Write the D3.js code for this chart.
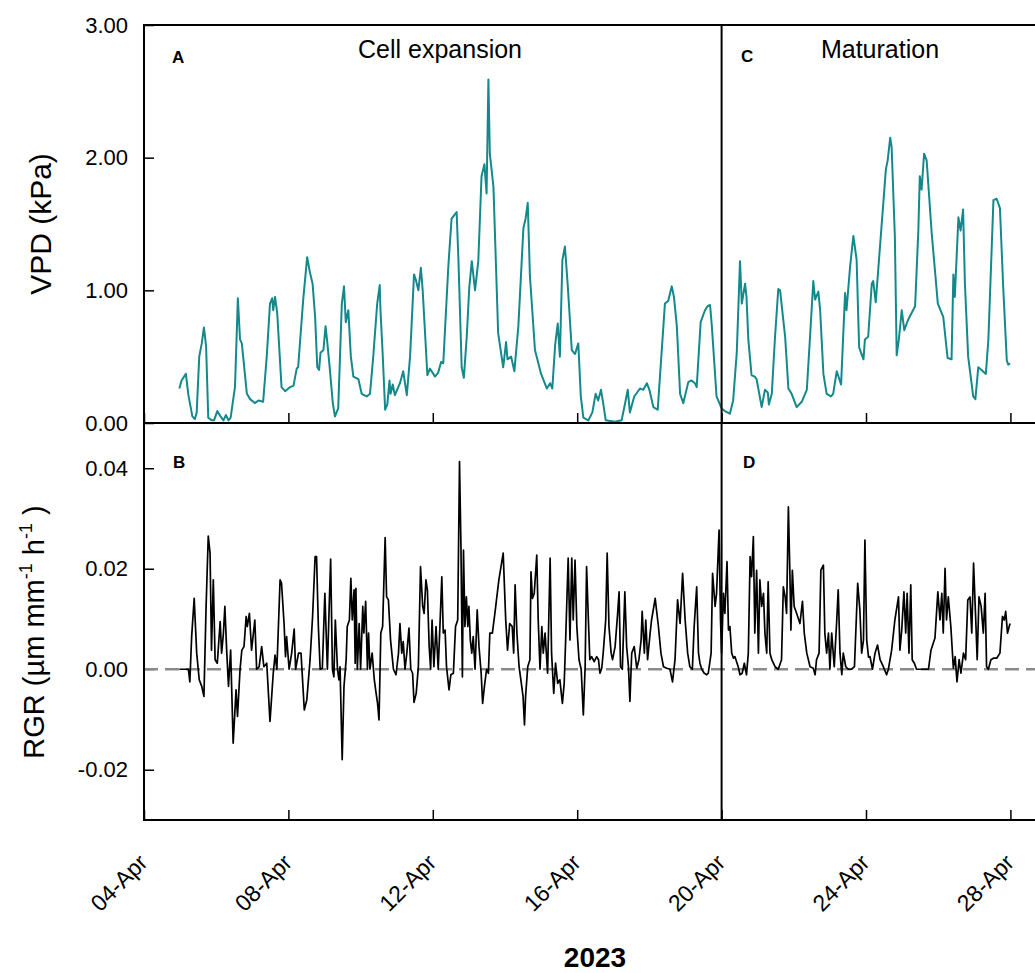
<!DOCTYPE html>
<html><head><meta charset="utf-8">
<script src="https://cdn.jsdelivr.net/npm/d3@7"></script>
<style>
body{margin:0;background:#fff}
svg{display:block}
text{font-family:"Liberation Sans",Arial,Helvetica,sans-serif;fill:#000}
</style>
</head><body>
<svg id="chart" width="1035" height="973"></svg>
<script>
// ---- data (decimal day of April 2023, value) ----
const tickDays = [4, 8, 12, 16, 20, 24, 28];
const tickLabels = ["04-Apr", "08-Apr", "12-Apr", "16-Apr", "20-Apr", "24-Apr", "28-Apr"];
const vpdTicks = [0, 1, 2, 3];
const rgrTicks = [-0.02, 0, 0.02, 0.04];
const phaseSplitDay = 20;
const phaseTitles = ["Cell expansion", "Maturation"];
const panelLetters = ["A", "B", "C", "D"];

const vpdSeries = [[4.98,0.26],[5.04,0.32],[5.16,0.37],[5.23,0.21],[5.34,0.05],[5.41,0.03],[5.46,0.08],[5.53,0.50],[5.60,0.60],[5.66,0.72],[5.72,0.58],[5.78,0.04],[5.88,0.02],[5.94,0.02],[6.03,0.09],[6.12,0.05],[6.20,0.02],[6.27,0.06],[6.34,0.02],[6.40,0.04],[6.52,0.27],[6.60,0.94],[6.66,0.63],[6.71,0.60],[6.85,0.22],[6.94,0.18],[7.07,0.15],[7.17,0.17],[7.30,0.16],[7.40,0.50],[7.49,0.90],[7.55,0.94],[7.58,0.85],[7.63,0.95],[7.69,0.83],[7.81,0.27],[7.91,0.24],[8.04,0.27],[8.14,0.28],[8.23,0.41],[8.27,0.42],[8.41,0.93],[8.52,1.25],[8.60,1.13],[8.67,1.05],[8.74,0.80],[8.80,0.42],[8.85,0.40],[8.89,0.53],[8.97,0.55],[9.03,0.73],[9.08,0.60],[9.15,0.40],[9.23,0.15],[9.29,0.05],[9.38,0.11],[9.48,0.90],[9.54,1.03],[9.59,0.76],[9.66,0.85],[9.73,0.50],[9.80,0.35],[9.94,0.33],[10.03,0.22],[10.17,0.20],[10.26,0.22],[10.35,0.50],[10.46,0.90],[10.53,1.04],[10.55,0.85],[10.61,0.53],[10.68,0.10],[10.74,0.14],[10.80,0.32],[10.83,0.22],[10.89,0.29],[10.95,0.21],[11.09,0.30],[11.18,0.39],[11.28,0.21],[11.37,0.50],[11.48,1.12],[11.53,1.08],[11.60,1.00],[11.67,1.17],[11.72,1.00],[11.85,0.36],[11.92,0.41],[12.06,0.35],[12.15,0.38],[12.23,0.46],[12.29,0.45],[12.43,1.18],[12.52,1.54],[12.66,1.59],[12.71,1.23],[12.80,0.42],[12.86,0.34],[12.94,0.65],[13.01,1.02],[13.08,1.22],[13.17,1.00],[13.26,1.22],[13.35,1.86],[13.43,1.95],[13.49,1.73],[13.54,2.59],[13.58,2.03],[13.68,1.78],[13.81,0.68],[13.95,0.42],[14.03,0.61],[14.07,0.48],[14.17,0.50],[14.26,0.39],[14.37,0.73],[14.51,1.47],[14.57,1.54],[14.63,1.66],[14.69,1.11],[14.83,0.55],[15.00,0.37],[15.16,0.26],[15.25,0.30],[15.31,0.26],[15.39,0.59],[15.46,0.75],[15.52,0.50],[15.59,1.23],[15.66,1.33],[15.74,1.03],[15.85,0.55],[15.94,0.52],[16.03,0.60],[16.10,0.20],[16.17,0.04],[16.31,0.02],[16.42,0.08],[16.51,0.22],[16.58,0.17],[16.66,0.25],[16.72,0.15],[16.79,0.02],[17.05,0.01],[17.23,0.02],[17.32,0.14],[17.40,0.25],[17.46,0.08],[17.58,0.20],[17.74,0.26],[17.83,0.25],[17.93,0.30],[18.00,0.25],[18.11,0.12],[18.23,0.10],[18.43,0.90],[18.52,0.92],[18.62,1.03],[18.68,0.95],[18.76,0.73],[18.85,0.22],[18.94,0.15],[19.08,0.31],[19.17,0.32],[19.26,0.30],[19.31,0.27],[19.42,0.76],[19.54,0.85],[19.61,0.88],[19.68,0.89],[19.73,0.73],[19.86,0.20],[20.00,0.11],[20.09,0.09],[20.23,0.07],[20.32,0.17],[20.42,0.53],[20.51,1.22],[20.56,0.90],[20.65,1.05],[20.69,0.95],[20.74,0.63],[20.83,0.36],[20.92,0.35],[20.97,0.33],[21.11,0.12],[21.20,0.25],[21.28,0.23],[21.31,0.14],[21.39,0.22],[21.48,0.65],[21.57,1.01],[21.62,1.00],[21.76,0.65],[21.85,0.26],[21.94,0.22],[22.08,0.12],[22.22,0.16],[22.36,0.25],[22.45,0.65],[22.54,1.07],[22.59,0.93],[22.68,0.99],[22.73,0.85],[22.82,0.37],[22.91,0.22],[23.03,0.20],[23.09,0.22],[23.19,0.39],[23.31,0.29],[23.42,0.98],[23.46,0.85],[23.56,1.18],[23.65,1.41],[23.74,1.23],[23.81,0.57],[23.93,0.48],[23.97,0.63],[24.06,0.65],[24.16,1.05],[24.20,1.07],[24.27,0.91],[24.43,1.48],[24.55,1.91],[24.60,1.98],[24.67,2.15],[24.71,2.08],[24.80,1.40],[24.85,0.51],[24.91,0.63],[24.99,0.85],[25.06,0.70],[25.17,0.78],[25.36,0.88],[25.45,1.45],[25.49,1.86],[25.54,1.76],[25.61,2.03],[25.68,1.98],[25.82,1.43],[25.99,0.90],[26.14,0.80],[26.26,0.49],[26.37,0.48],[26.42,1.12],[26.46,0.95],[26.56,1.55],[26.62,1.45],[26.69,1.61],[26.74,1.05],[26.83,0.50],[26.97,0.20],[27.03,0.18],[27.11,0.42],[27.20,0.40],[27.32,0.37],[27.39,0.63],[27.53,1.68],[27.62,1.69],[27.71,1.62],[27.80,1.03],[27.90,0.47],[27.94,0.44],[27.99,0.45]];

const rgrSeries = [[4.98,0],[5.23,0],[5.27,-0.0025],[5.32,0.0065],[5.39,0.0141],[5.46,0.0032],[5.53,-0.0021],[5.60,-0.0034],[5.66,-0.0054],[5.72,0.0125],[5.78,0.0265],[5.83,0.0231],[5.87,0.0038],[5.92,0.0178],[5.97,0.0019],[6.03,0.0012],[6.11,0.0095],[6.15,0.0032],[6.20,0.0072],[6.24,0.0125],[6.29,0.0038],[6.34,-0.0034],[6.40,0.0038],[6.47,-0.0147],[6.55,-0.0041],[6.59,-0.0094],[6.66,-0.0001],[6.71,0.0038],[6.77,0.0045],[6.83,0.0105],[6.86,0.0085],[6.92,0.0111],[6.98,0.0038],[7.07,0.0098],[7.12,0],[7.19,0.0005],[7.26,0.0045],[7.32,0.0005],[7.40,0.0012],[7.49,-0.0104],[7.58,-0.0008],[7.63,0.0028],[7.68,0],[7.77,0.0178],[7.81,0.0171],[7.88,0.0091],[7.92,0.0025],[7.95,0.0065],[8.02,0],[8.09,0.0032],[8.16,0.0080],[8.20,0],[8.28,0.0032],[8.35,0.0032],[8.44,-0.0081],[8.51,-0.0061],[8.60,0.0019],[8.67,0.0105],[8.74,0.0224],[8.78,0.0224],[8.83,0.0085],[8.88,0],[8.94,0.0002],[9.01,0.0151],[9.08,0],[9.13,0.0125],[9.17,0.0219],[9.22,0],[9.26,-0.0015],[9.30,0.0098],[9.36,0],[9.40,-0.0021],[9.43,0.0005],[9.49,-0.0180],[9.54,-0.0034],[9.60,0.0019],[9.63,0.0085],[9.69,0.0098],[9.73,0.0181],[9.77,0.0098],[9.82,0.0158],[9.85,0.0012],[9.87,0.0161],[9.91,0],[9.96,0.0091],[10.00,0],[10.06,0.0125],[10.09,0.0072],[10.14,0.0135],[10.19,0],[10.22,0.0072],[10.26,0],[10.32,0.0032],[10.38,-0.0021],[10.43,-0.0048],[10.47,-0.0068],[10.51,-0.0101],[10.56,0.0072],[10.61,0.0085],[10.68,0.0262],[10.72,0.0144],[10.77,0.0138],[10.83,0.0058],[10.91,0],[10.98,-0.0011],[11.05,0.0032],[11.09,0.0091],[11.14,0.0032],[11.18,0.0055],[11.23,0],[11.28,0.0032],[11.34,0.0082],[11.39,0],[11.44,-0.0008],[11.48,-0.0066],[11.54,-0.0048],[11.60,0.0005],[11.66,0.0204],[11.72,0.0125],[11.76,0.0111],[11.81,0.0178],[11.85,0.0158],[11.90,0.0045],[11.94,0],[11.98,0.0098],[12.03,0.0005],[12.09,0.0085],[12.15,0],[12.20,0.0091],[12.25,0.0184],[12.29,0.0072],[12.34,0.0078],[12.38,0.0005],[12.45,-0.0041],[12.50,-0.0011],[12.57,-0.0008],[12.63,0.0085],[12.69,0.0098],[12.74,0.0413],[12.78,0.0244],[12.82,-0.0015],[12.85,0.0237],[12.89,0.0085],[12.93,0.0144],[12.97,0.0085],[13.00,0.0125],[13.04,0.0058],[13.08,0.0032],[13.12,0.0065],[13.17,0],[13.23,0.0118],[13.28,0.0045],[13.34,-0.0008],[13.38,-0.0068],[13.43,-0.0034],[13.49,0],[13.54,-0.0008],[13.58,0.0072],[13.65,0.0072],[13.72,0.0111],[13.83,0.0178],[13.95,0.0231],[14.02,0.0098],[14.07,0.0038],[14.13,0.0091],[14.20,0.0085],[14.24,0.0032],[14.28,0.0168],[14.33,0.0072],[14.39,0.0005],[14.44,-0.0021],[14.50,-0.0054],[14.54,-0.0111],[14.57,-0.0054],[14.63,0.0005],[14.69,0.0019],[14.72,0.0194],[14.76,0.0141],[14.81,0.0151],[14.88,0.0227],[14.92,0.0098],[14.97,0],[15.02,0.0085],[15.06,0.0032],[15.11,0.0072],[15.18,-0.0008],[15.25,0.0221],[15.29,0.0032],[15.35,-0.0048],[15.40,0.0012],[15.46,-0.0028],[15.52,-0.0021],[15.59,-0.0068],[15.64,-0.0028],[15.68,0.0058],[15.75,0.0221],[15.80,0.0058],[15.85,0.0221],[15.89,0.0098],[15.94,0.0217],[15.99,0.0085],[16.05,0.0019],[16.11,0],[16.17,-0.0091],[16.22,0.0005],[16.26,0.0204],[16.31,0.0098],[16.35,0.0019],[16.40,0.0025],[16.47,0.0015],[16.54,0.0025],[16.59,0.0019],[16.63,-0.0008],[16.68,0.0002],[16.72,0.0032],[16.79,0.0098],[16.83,0.0231],[16.88,0.0085],[16.94,0.0032],[16.98,0.0019],[17.05,0.0045],[17.12,0.0111],[17.16,0.0154],[17.20,0.0005],[17.25,0],[17.32,0.0154],[17.37,0.0045],[17.42,0.0005],[17.46,-0.0064],[17.51,0.0032],[17.58,0.0045],[17.65,0.0002],[17.71,0.0019],[17.77,0.0058],[17.80,0.0115],[17.86,0.0032],[17.90,0.0098],[17.95,0.0019],[18.02,0.0072],[18.06,0.0098],[18.16,0.0141],[18.25,0.0085],[18.32,0.0032],[18.39,0.0005],[18.48,0.0002],[18.57,0],[18.64,-0.0025],[18.71,0.0019],[18.78,0.0138],[18.85,0.0091],[18.92,0.0191],[18.99,0.0098],[19.06,0.0032],[19.12,0.0005],[19.19,0],[19.24,0.0085],[19.31,0.0164],[19.36,0.0032],[19.40,0.0012],[19.45,0],[19.52,-0.0008],[19.59,-0.0011],[19.63,-0.0008],[19.71,0.0032],[19.75,0.0191],[19.82,0.0125],[19.86,0.0151],[19.93,0.0277],[19.97,0.0098],[20.00,0.0032],[20.05,0.0151],[20.09,0.0111],[20.15,0.0214],[20.19,0.0078],[20.23,0.0085],[20.28,0.0032],[20.33,0.0022],[20.37,0.0025],[20.46,0.0005],[20.51,-0.0011],[20.57,-0.0008],[20.63,0.0012],[20.69,-0.0011],[20.74,0.0032],[20.79,0.0224],[20.83,0.0184],[20.88,0.0264],[20.92,0.0072],[20.97,0.0197],[21.02,0.0032],[21.06,0.0178],[21.11,0.0125],[21.16,0.0151],[21.20,0.0072],[21.25,0.0032],[21.29,0.0174],[21.34,0.0032],[21.39,0.0019],[21.48,0.0005],[21.57,0],[21.66,0.0019],[21.71,0.0164],[21.76,0.0144],[21.80,0.0111],[21.85,0.0323],[21.89,0.0197],[21.92,0.0078],[21.96,0.0197],[22.01,0.0125],[22.08,0.0111],[22.17,0.0091],[22.24,0.0135],[22.29,0.0072],[22.36,0.0032],[22.45,0.0005],[22.54,0.0002],[22.59,-0.0011],[22.63,0.0019],[22.70,0.0032],[22.75,0.0197],[22.82,0.0207],[22.86,0.0072],[22.91,0.0032],[22.96,0.0072],[23.00,0],[23.05,0.0072],[23.12,0.0005],[23.19,0.0098],[23.23,0.0158],[23.28,0.0032],[23.33,-0.0011],[23.37,0.0032],[23.44,0.0005],[23.51,0],[23.60,0],[23.68,0.0005],[23.77,0.0171],[23.83,0.0118],[23.88,0.0032],[23.93,0.0058],[23.97,0.0257],[24.02,0.0058],[24.07,0.0024],[24.11,0.0025],[24.18,0],[24.25,0.0032],[24.32,0.0048],[24.39,0.0019],[24.48,0.0005],[24.57,-0.0011],[24.62,0],[24.71,0.0038],[24.80,0.0098],[24.90,0.0144],[24.94,0.0038],[24.99,0.0078],[25.05,0.0154],[25.10,0.0072],[25.14,0.0151],[25.19,0.0032],[25.24,0.0168],[25.28,0.0019],[25.34,0.0012],[25.40,0],[25.73,0],[25.80,0.0038],[25.91,0.0062],[25.99,0.0154],[26.05,0.0098],[26.10,0.0151],[26.14,0.0072],[26.19,0.0201],[26.23,0.0098],[26.28,0.0144],[26.35,0.0085],[26.42,0.0002],[26.47,0.0025],[26.52,-0.0025],[26.58,0.0019],[26.63,-0.0008],[26.70,0.0032],[26.76,0.0019],[26.82,0.0138],[26.88,0.0144],[26.93,0.0072],[26.98,0.0211],[27.04,0.0098],[27.08,0.0019],[27.13,0.0144],[27.19,0.0125],[27.25,0.0072],[27.30,0.0151],[27.34,0.0005],[27.39,0],[27.46,0.0019],[27.53,0.0022],[27.62,0.0022],[27.71,0.0032],[27.78,0.0105],[27.83,0.0098],[27.87,0.0115],[27.92,0.0072],[27.99,0.0091]];

// ---- helpers ----
const MS_DAY = 864e5;
const aprilOrigin = Date.UTC(2023, 2, 31);
const toDate = d => new Date(aprilOrigin + d * MS_DAY);

const svg = d3.select("#chart");
svg.append("rect").attr("width", 1035).attr("height", 973).attr("fill", "#fff");

const left = 144, pxPerDay = 36.1;
const topY = 25, midY = 423, botY = 820;
const rightX = left + 25 * pxPerDay;

const x = d3.scaleUtc().domain([toDate(4), toDate(29)]).range([left, rightX]);
const yV = d3.scaleLinear().domain([0, 3]).range([midY, topY]);
const yR = d3.scaleLinear().domain([-0.03, 0.049]).range([botY, midY]);

const defs = svg.append("defs");
defs.append("clipPath").attr("id", "clipTop").append("rect")
  .attr("x", left).attr("y", topY).attr("width", rightX - left).attr("height", midY - topY);
defs.append("clipPath").attr("id", "clipBot").append("rect")
  .attr("x", left).attr("y", midY).attr("width", rightX - left).attr("height", botY - midY);

// zero dashed line
svg.append("line")
  .attr("x1", left).attr("x2", 1035).attr("y1", yR(0)).attr("y2", yR(0))
  .attr("stroke", "#8a8a8a").attr("stroke-width", 2.5).attr("stroke-dasharray", "14,7");

// series lines
const lineV = d3.line().x(d => x(toDate(d[0]))).y(d => yV(d[1]));
const lineR = d3.line().x(d => x(toDate(d[0]))).y(d => yR(d[1]));

svg.append("path").datum(vpdSeries).attr("clip-path", "url(#clipTop)")
  .attr("d", lineV).attr("fill", "none").attr("stroke", "#14898b")
  .attr("stroke-width", 2).attr("stroke-linejoin", "round");

svg.append("path").datum(rgrSeries).attr("clip-path", "url(#clipBot)")
  .attr("d", lineR).attr("fill", "none").attr("stroke", "#000")
  .attr("stroke-width", 1.7).attr("stroke-linejoin", "round");

// axes
const tickDates = tickDays.map(toDate);
function styleAxis(g) {
  g.select(".domain").remove();
  g.selectAll(".tick line").attr("stroke", "#000").attr("stroke-width", 1.5);
  g.selectAll(".tick text").attr("font-size", 22).attr("fill", "#000")
    .attr("font-family", "Liberation Sans, Arial, sans-serif");
}
svg.append("g").attr("transform", `translate(0,${midY})`)
  .call(d3.axisBottom(x).tickValues(tickDates).tickSizeInner(-10).tickSizeOuter(0).tickFormat(""))
  .call(styleAxis);
svg.append("g").attr("transform", `translate(0,${botY})`)
  .call(d3.axisBottom(x).tickValues(tickDates).tickSizeInner(-10).tickSizeOuter(0).tickFormat(""))
  .call(styleAxis);

svg.append("g").attr("transform", `translate(${left},0)`)
  .call(d3.axisLeft(yV).tickValues(vpdTicks).tickSizeInner(-10).tickSizeOuter(0).tickPadding(16)
    .tickFormat(d => d.toFixed(2)))
  .call(styleAxis);
const gyr = svg.append("g").attr("transform", `translate(${left},0)`)
  .call(d3.axisLeft(yR).tickValues(rgrTicks).tickSizeInner(-10).tickSizeOuter(0).tickPadding(16)
    .tickFormat(d => d.toFixed(2)))
  .call(styleAxis);
gyr.selectAll(".tick").filter(d => d === 0).select("line").attr("stroke", "#8a8a8a");

// rotated x tick labels
svg.append("g").selectAll("text").data(tickDays).join("text")
  .attr("transform", d => `translate(${x(toDate(d)) + 5},864) rotate(-45)`)
  .attr("text-anchor", "end").attr("font-size", 23)
  .text((d, i) => tickLabels[i]);

// frame
const frame = svg.append("g").attr("stroke", "#000").attr("stroke-width", 2).attr("fill", "none");
frame.append("line").attr("x1", left).attr("x2", left).attr("y1", topY - 1).attr("y2", botY + 1);
frame.append("line").attr("x1", left).attr("x2", 1035).attr("y1", topY).attr("y2", topY);
frame.append("line").attr("x1", left).attr("x2", 1035).attr("y1", midY).attr("y2", midY);
frame.append("line").attr("x1", left).attr("x2", 1035).attr("y1", botY).attr("y2", botY);
const xs = x(toDate(phaseSplitDay));
frame.append("line").attr("x1", xs).attr("x2", xs).attr("y1", topY).attr("y2", botY);

// phase titles
svg.append("text").attr("x", 440).attr("y", 58).attr("text-anchor", "middle")
  .attr("font-size", 25).text(phaseTitles[0]);
svg.append("text").attr("x", 880).attr("y", 58).attr("text-anchor", "middle")
  .attr("font-size", 25).text(phaseTitles[1]);

// panel letters
const letterPos = [[172, 63], [173, 468], [741, 62], [743, 468]];
svg.append("g").selectAll("text").data(panelLetters).join("text")
  .attr("x", (d, i) => letterPos[i][0]).attr("y", (d, i) => letterPos[i][1])
  .attr("font-size", 17).attr("font-weight", "bold").text(d => d);

// y-axis titles
svg.append("text").attr("transform", "translate(51,224) rotate(-90)")
  .attr("text-anchor", "middle").attr("font-size", 30).text("VPD (kPa)");

const rt = svg.append("text").attr("transform", "translate(44,632) rotate(-90)")
  .attr("text-anchor", "middle").attr("font-size", 29);
rt.append("tspan").text("RGR (\u00b5m mm");
rt.append("tspan").attr("dy", -12).attr("font-size", 18).text("-1");
rt.append("tspan").attr("dy", 12).text(" h");
rt.append("tspan").attr("dy", -12).attr("font-size", 18).text("-1");
rt.append("tspan").attr("dy", 12).text(" )");

// x-axis title
svg.append("text").attr("x", 595).attr("y", 967).attr("text-anchor", "middle")
  .attr("font-size", 28).attr("font-weight", "bold").text("2023");
</script>
</body></html>
